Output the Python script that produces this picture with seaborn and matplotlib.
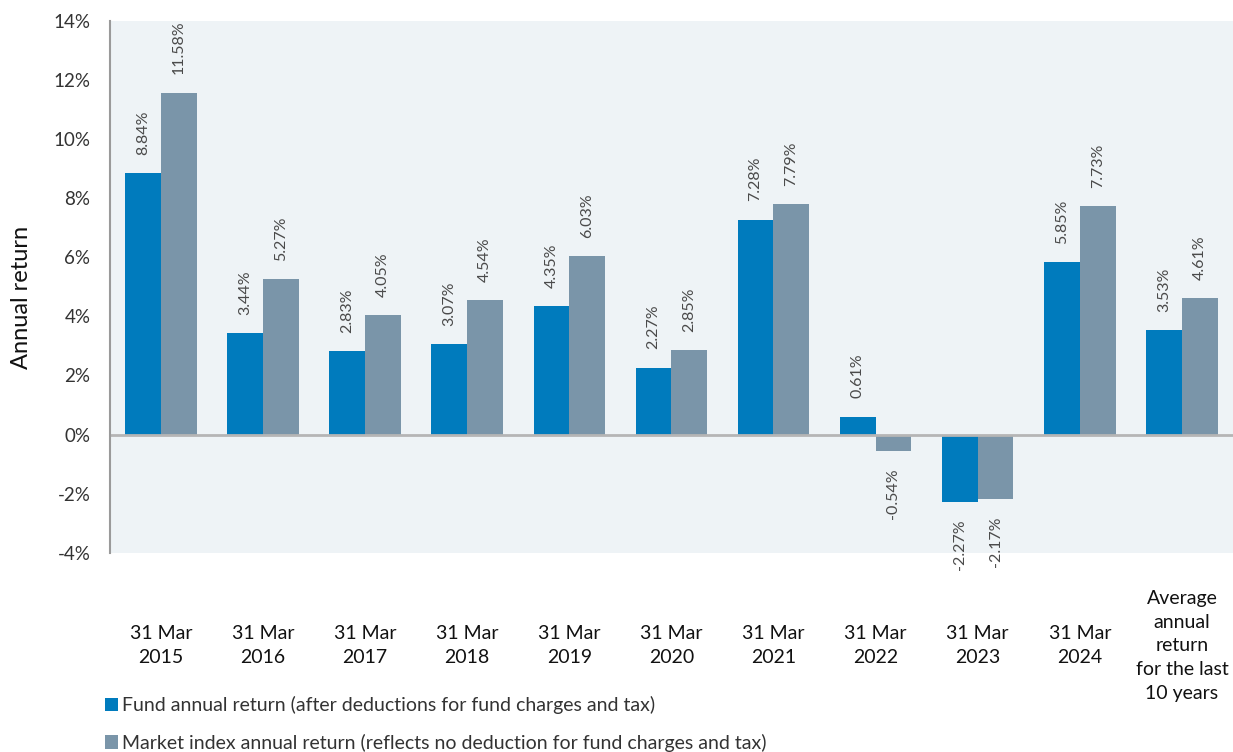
import pandas as pd
import seaborn as sns
import matplotlib.pyplot as plt
from matplotlib.ticker import FuncFormatter

# chart data
periods = ["31 Mar\n2015", "31 Mar\n2016", "31 Mar\n2017", "31 Mar\n2018", "31 Mar\n2019",
           "31 Mar\n2020", "31 Mar\n2021", "31 Mar\n2022", "31 Mar\n2023", "31 Mar\n2024",
           "Average\nannual\nreturn\nfor the last\n10 years"]
fund = [8.84, 3.44, 2.83, 3.07, 4.35, 2.27, 7.28, 0.61, -2.27, 5.85, 3.53]
market = [11.58, 5.27, 4.05, 4.54, 6.03, 2.85, 7.79, -0.54, -2.17, 7.73, 4.61]
series = ["Fund annual return (after deductions for fund charges and tax)",
          "Market index annual return (reflects no deduction for fund charges and tax)"]
yticks = [-4, -2, 0, 2, 4, 6, 8, 10, 12, 14]

df = pd.DataFrame({
    "period": periods * 2,
    "value": fund + market,
    "series": [series[0]] * len(fund) + [series[1]] * len(market),
})

sns.set_theme(style="white")
plt.rcParams['font.family'] = ['Lato', 'DejaVu Sans']

fig = plt.figure(figsize=(12.33, 7.52), dpi=100)
ax = fig.add_axes([0.089, 0.265, 0.911, 0.707])

sns.barplot(data=df, x="period", y="value", hue="series", order=periods, hue_order=series,
            palette=["#007bbd", "#7a95a9"], width=0.7, saturation=1, linewidth=0, ax=ax)

ax.set_facecolor("#eef3f6")
ax.set_xlim(-0.5, len(periods) - 0.5)
ax.set_ylim(-4, 14)
ax.set_yticks(yticks)
ax.yaxis.set_major_formatter(FuncFormatter(lambda v, _: f"{v:.0f}%"))
ax.tick_params(axis="y", length=0, pad=14, labelsize=13.5, labelcolor="#333333")
ax.tick_params(axis="x", length=0, pad=67, labelsize=14, labelcolor="#111111")
for t in ax.get_xticklabels():
    t.set_verticalalignment("center")
    t.set_linespacing(1.48)

ax.axhline(0, color="#b5b5b5", lw=2, zorder=1)
for s in ["top", "right", "bottom"]:
    ax.spines[s].set_visible(False)
ax.spines["left"].set_color("#9a9a9a")
ax.spines["left"].set_linewidth(1.5)

ax.set_xlabel("")
ax.set_ylabel("Annual return", fontsize=17, color="#111111")
ax.yaxis.set_label_coords(-0.069, 0.48)

for c in ax.containers:
    ax.bar_label(c, fmt="{:.2f}%", rotation=90, padding=13, fontsize=11.5, color="#4a4a4a")

handles, labels = ax.get_legend_handles_labels()
ax.legend_.remove()
fig.legend(handles, labels, loc="upper left", bbox_to_anchor=(0.077, 0.087),
           frameon=False, fontsize=14, labelcolor="#333333", handlelength=0.7,
           handleheight=0.7, handletextpad=0.2, labelspacing=1.0, borderpad=0)

fig.savefig("out.png", dpi=100)
